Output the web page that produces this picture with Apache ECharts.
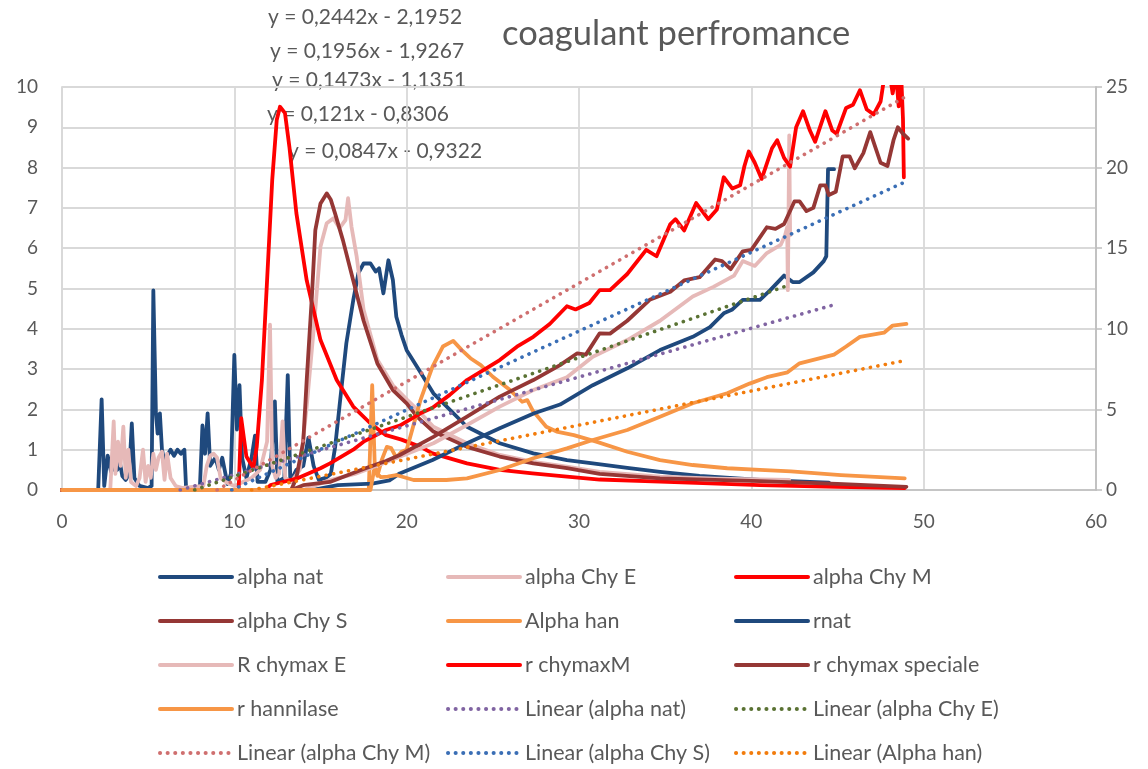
<!DOCTYPE html>
<html>
<head>
<meta charset="utf-8">
<script src="https://cdn.jsdelivr.net/npm/echarts@6/dist/echarts.min.js"></script>
<style>
html,body{margin:0;padding:0;background:#fff;}
#chart{width:1148px;height:769px;}
</style>
</head>
<body>
<div id="chart"></div>
<script>
// ---------- DATA ----------
const titleText = 'coagulant perfromance';
const xTicks = [0, 10, 20, 30, 40, 50, 60];
const leftTicks = [0,1,2,3,4,5,6,7,8,9,10];
const rightTicks = [0,5,10,15,20,25];

// left-axis series [x, y]
const alphaNat = [[0,0],[2.1,0],[2.3,2.25],[2.45,0.1],[2.65,0.85],[2.85,0.45],[3.05,0.6],[3.2,0.5],[3.35,0.7],[3.5,0.35],[3.7,0.25],[3.9,0.4],[4.05,1.65],[4.2,0.3],[4.5,0.1],[5.0,0.05],[5.2,0.1],[5.3,4.95],[5.45,1.9],[5.55,1.4],[5.68,1.9],[5.8,1.0],[5.95,0.7],[6.1,0.85],[6.3,1.0],[6.5,0.85],[6.7,1.0],[6.9,0.9],[7.1,1.0],[7.2,0.05],[7.6,0],[8.0,0.05],[8.15,1.6],[8.3,0.9],[8.45,1.9],[8.6,0.6],[8.9,0.8],[9.1,0.5],[9.3,0.8],[9.6,0.15],[9.8,0.4],[10.0,3.35],[10.15,1.5],[10.3,2.6],[10.45,0.8],[10.7,0.3],[11.0,0.8],[11.2,1.35],[11.35,0.2],[11.8,0.2],[12.1,0.5],[12.35,2.2],[12.5,0.2],[12.9,0.3],[13.1,2.85],[13.25,0.2],[13.6,0.5],[14.0,0.6],[14.3,1.3],[14.6,0.6],[14.9,0.25],[15.3,0.3],[15.6,0.4],[15.85,1.07],[16.1,2.07],[16.5,3.64],[16.9,4.71],[17.2,5.38],[17.5,5.62],[17.9,5.62],[18.2,5.42],[18.4,5.5],[18.65,4.88],[18.94,5.7],[19.2,5.21],[19.4,4.3],[19.7,3.85],[20.0,3.47],[20.6,3.06],[21.55,2.4],[23.5,1.57],[25.4,1.16],[27.35,0.91],[29.3,0.74],[30.8,0.66],[32.8,0.55],[34.7,0.45],[37.0,0.35],[40.5,0.25],[44.5,0.18]];
const alphaChyE = [[0,0],[2.8,0],[3.0,1.7],[3.1,0.4],[3.25,1.2],[3.4,0.6],[3.56,1.57],[3.7,0.3],[3.85,1.0],[4.0,0.2],[4.3,0.1],[4.5,0.3],[4.7,1.0],[4.85,0.2],[5.0,0.6],[5.15,0.3],[5.3,0.9],[5.45,0.5],[5.6,0.8],[5.8,0.95],[5.95,0.25],[6.1,0.9],[6.3,0.3],[6.6,0.1],[7.0,0.05],[8.2,0.1],[8.4,0.6],[8.6,0.85],[8.8,0.9],[9.0,0.8],[9.2,0.3],[9.5,0.2],[10.0,0.1],[10.5,0.2],[11.0,0.3],[11.5,0.5],[11.9,1.2],[12.07,4.1],[12.2,0.6],[12.4,0.3],[12.6,0.4],[12.8,1.7],[12.95,0.3],[13.3,0.2],[13.8,0.5],[14.2,2.07],[14.6,3.97],[15.0,6.04],[15.36,6.62],[15.75,6.74],[16.1,6.5],[16.45,6.7],[16.6,7.24],[16.8,6.53],[17.1,5.79],[17.5,4.47],[18.3,3.23],[19.2,2.6],[20.0,2.25],[20.6,2.0],[21.55,1.57],[23.5,1.16],[25.4,0.87],[27.35,0.7],[29.3,0.58],[31.2,0.45],[34.7,0.33],[38.0,0.28],[42.2,0.25]];
const alphaChyM = [[0,0],[10.25,0],[10.4,1.78],[10.7,0.83],[11.1,0.55],[11.3,1.07],[11.6,2.73],[11.9,5.2],[12.2,7.7],[12.46,9.18],[12.65,9.51],[12.94,9.35],[13.2,8.5],[13.6,6.87],[14.2,5.2],[15.0,3.72],[15.94,2.73],[16.9,2.07],[17.9,1.65],[18.8,1.36],[19.7,1.25],[20.8,1.07],[21.5,0.91],[23.5,0.66],[25.4,0.5],[27.3,0.41],[29.3,0.33],[31.2,0.26],[34.7,0.21],[40.5,0.12],[45,0.08],[48.9,0.05]];
const alphaChyS = [[0,0],[13.3,0],[13.6,0.3],[14.0,1.2],[14.2,2.73],[14.5,4.8],[14.7,6.45],[15.0,7.11],[15.36,7.36],[15.6,7.2],[15.84,6.87],[16.3,6.2],[16.9,5.2],[17.5,4.2],[18.3,3.14],[19.2,2.48],[20.0,2.15],[20.6,1.82],[21.55,1.45],[23.5,1.07],[25.4,0.83],[27.35,0.66],[29.3,0.54],[31.2,0.4],[34.7,0.29],[40.5,0.22],[45,0.15],[49.0,0.08]];
const alphaHan = [[0,0],[17.8,0],[18.0,2.6],[18.15,0.6],[18.3,0.35],[18.55,0.74],[18.85,1.07],[19.1,1.04],[19.4,0.8],[19.7,0.95],[20.0,1.0],[20.8,2.23],[21.5,3.06],[22.1,3.56],[22.7,3.7],[23.2,3.47],[23.7,3.27],[24.3,3.1],[25.0,2.81],[26.0,2.48],[26.7,2.19],[27.0,2.23],[27.3,1.98],[28.1,1.57],[28.7,1.45],[29.7,1.36],[31.0,1.2],[32.8,0.95],[34.7,0.74],[36.6,0.62],[38.6,0.54],[40.5,0.5],[42.3,0.46],[45.2,0.37],[48.9,0.29]];

// right-axis series [x, r]
const rNat = [[0,0],[14.5,0],[16,0.3],[18,0.4],[19.0,0.6],[19.6,1.03],[21.5,1.86],[23.5,2.9],[25.4,3.83],[27.4,4.76],[28.9,5.3],[30.8,6.5],[32.8,7.55],[34.7,8.68],[36.6,9.5],[37.6,10.1],[38.4,10.96],[38.9,11.2],[39.5,11.8],[40.5,11.8],[41.1,12.4],[41.9,13.3],[42.4,12.9],[42.8,12.9],[43.6,13.5],[44.2,14.2],[44.35,14.5],[44.45,19.9],[44.8,19.9]];
const rChymaxE = [[0,0],[14.0,0],[15.5,0.6],[17.0,1.0],[18.5,1.6],[19.6,2.07],[21.55,2.9],[23.5,4.03],[25.4,5.17],[27.35,6.2],[29.3,7.0],[30.8,8.27],[32.8,9.3],[34.7,10.5],[36.6,12.0],[37.8,12.6],[39.0,13.3],[39.5,14.2],[40.2,13.9],[40.9,14.7],[41.7,15.2],[41.96,15.8],[42.08,16.3],[42.12,12.4],[42.2,22.0],[42.25,15.8]];
const rChymaxM = [[0,0],[11.8,0],[12.1,0.31],[13.6,0.7],[15.0,1.35],[15.55,1.65],[16.9,2.5],[17.5,3.0],[18.8,3.72],[19.6,4.0],[20.8,4.76],[21.5,5.1],[22.5,5.9],[23.5,6.82],[24.45,7.44],[25.4,8.06],[26.4,8.89],[27.35,9.5],[28.3,10.3],[29.3,11.4],[29.8,11.2],[30.6,11.6],[31.2,12.4],[31.8,12.4],[32.8,13.4],[33.9,14.9],[34.5,14.5],[35.3,16.5],[35.6,16.8],[36.1,16.1],[36.8,17.8],[37.5,16.8],[38.0,17.4],[38.4,19.4],[38.9,18.7],[39.35,18.9],[39.6,20.1],[39.85,21.0],[40.2,20.3],[40.6,19.3],[41.2,21.2],[41.5,21.7],[41.9,20.6],[42.25,20.06],[42.6,22.5],[43.0,23.5],[43.4,22.3],[43.7,21.6],[44.3,23.5],[44.7,22.3],[44.95,22.1],[45.5,23.7],[45.9,23.9],[46.3,24.8],[46.7,23.6],[47.1,23.3],[47.5,24.1],[47.7,25.5],[48.0,26],[48.2,24.6],[48.4,25.8],[48.55,23.8],[48.7,25.6],[48.8,23.0],[48.85,19.4]];
const rChymaxS = [[0,0],[13.3,0],[14.0,0.3],[15.55,0.5],[17.5,1.3],[18.8,1.8],[19.6,2.17],[21.55,3.3],[23.5,4.55],[25.4,5.79],[27.35,6.82],[28.9,7.75],[29.9,8.48],[30.4,8.4],[31.2,9.72],[31.8,9.7],[32.8,10.5],[34.1,11.8],[35.3,12.3],[36.1,13.0],[37.0,13.2],[37.9,14.3],[38.3,14.2],[38.8,13.7],[39.5,14.8],[40.0,14.9],[40.9,16.3],[41.4,16.2],[41.9,16.5],[42.5,17.9],[42.8,17.9],[43.2,17.3],[43.6,17.5],[44.0,18.9],[44.3,18.9],[44.5,18.3],[44.9,18.5],[45.3,20.7],[45.7,20.7],[46.0,19.96],[46.5,20.9],[46.9,22.2],[47.5,20.3],[47.9,20.1],[48.25,21.7],[48.5,22.5],[48.8,22.1],[49.1,21.8]];
const rHannilase = [[0,0],[17.9,0],[18.1,1.2],[18.5,0.8],[18.9,0.83],[19.4,0.93],[20.4,0.62],[22.3,0.62],[23.5,0.72],[25.4,1.24],[27.35,1.97],[29.3,2.58],[30.8,3.1],[32.8,3.72],[34.7,4.55],[36.6,5.38],[38.6,6.0],[39.9,6.6],[40.9,7.0],[42.1,7.3],[42.8,7.86],[44.8,8.4],[45.5,8.9],[46.3,9.5],[47.7,9.76],[48.2,10.2],[49.0,10.3]];

// trendline end points (left axis)
const linAlphaNat = [[6.86,0],[45.0,4.62]];
const linAlphaChyE = [[7.7,0],[42.3,5.1]];
const linAlphaChyM = [[9.0,0],[48.9,9.75]];
const linAlphaChyS = [[9.85,0],[48.9,7.64]];
const linAlphaHan = [[11.0,0],[48.9,3.21]];

const equations = ['y = 0,2442x - 2,1952','y = 0,1956x - 1,9267','y = 0,1473x - 1,1351','y = 0,121x - 0,8306','y = 0,0847x - 0,9322'];

// ---------- STYLE ----------
const FONT = 'Lato, "Open Sans", sans-serif';
const TXT = '#595959';
const C = {nat:'#1F497D', chyE:'#E6B9B8', chyM:'#FF0000', chyS:'#953735', han:'#F79646',
  lNat:'#8064A2', lE:'#5A7233', lM:'#CF6F6F', lS:'#3A6EB5', lH:'#F27C0C'};

const seriesDefs = [
  ['alpha nat', alphaNat, 0, C.nat, false],
  ['alpha Chy E', alphaChyE, 0, C.chyE, false],
  ['alpha Chy M', alphaChyM, 0, C.chyM, false],
  ['alpha Chy S', alphaChyS, 0, C.chyS, false],
  ['Alpha han', alphaHan, 0, C.han, false],
  ['rnat', rNat, 1, C.nat, false],
  ['R chymax E', rChymaxE, 1, C.chyE, false],
  ['r chymaxM', rChymaxM, 1, C.chyM, false],
  ['r chymax speciale', rChymaxS, 1, C.chyS, false],
  ['r hannilase', rHannilase, 1, C.han, false],
  ['Linear (alpha nat)', linAlphaNat, 0, C.lNat, true],
  ['Linear (alpha Chy E)', linAlphaChyE, 0, C.lE, true],
  ['Linear (alpha Chy M)', linAlphaChyM, 0, C.lM, true],
  ['Linear (alpha Chy S)', linAlphaChyS, 0, C.lS, true],
  ['Linear (Alpha han)', linAlphaHan, 0, C.lH, true]
];

const series = seriesDefs.map(([name, data, yi, color, dotted]) => ({
  name, type: 'line', data, yAxisIndex: yi, symbol: 'none', showSymbol: false,
  smooth: false, clip: true, animation: false, color,
  itemStyle: {color},
  lineStyle: dotted ? {color, width: 3.6, type: [0.1, 7.5], cap: 'round'} : {color, width: 3.8, join: 'round', cap: 'round'},
  z: dotted ? 3 : 2
}));

const legendCols = [
  ['alpha nat','alpha Chy S','R chymax E','r hannilase','Linear (alpha Chy M)'],
  ['alpha Chy E','Alpha han','r chymaxM','Linear (alpha nat)','Linear (alpha Chy S)'],
  ['alpha Chy M','rnat','r chymax speciale','Linear (alpha Chy E)','Linear (Alpha han)']
];
const legendLeft = [158, 446, 734];

const chart = echarts.init(document.getElementById('chart'), null, {renderer: 'canvas'});
chart.setOption({
  backgroundColor: '#fff',
  animation: false,
  textStyle: {fontFamily: FONT},
  title: {text: titleText, left: 497, top: 11, textStyle: {fontFamily: FONT, fontSize: 34.5, fontWeight: 'normal', color: TXT}},
  grid: {left: 62, right: 52, top: 87, bottom: 279, containLabel: false},
  xAxis: {type: 'value', min: xTicks[0], max: xTicks[xTicks.length-1], interval: 10,
    axisLine: {show: true, lineStyle: {color: '#BFBFBF', width: 1.5}},
    axisTick: {show: false},
    axisLabel: {margin: 22, fontSize: 19, color: TXT, fontFamily: FONT},
    splitLine: {show: true, lineStyle: {color: '#D9D9D9', width: 1.8}}},
  yAxis: [
    {type: 'value', min: leftTicks[0], max: leftTicks[leftTicks.length-1], interval: 1,
      axisLine: {show: true, lineStyle: {color: '#D9D9D9', width: 1.8}},
      axisTick: {show: false},
      axisLabel: {margin: 24, fontSize: 19, color: TXT, fontFamily: FONT},
      splitLine: {show: true, lineStyle: {color: '#D9D9D9', width: 1.8}}},
    {type: 'value', min: rightTicks[0], max: rightTicks[rightTicks.length-1], interval: 5, position: 'right',
      axisLine: {show: true, lineStyle: {color: '#BFBFBF', width: 1.8}},
      axisTick: {show: true, inside: false, length: 6, lineStyle: {color: '#BFBFBF', width: 1.5}},
      axisLabel: {margin: 10, fontSize: 19, color: TXT, fontFamily: FONT},
      splitLine: {show: false}}
  ],
  legend: legendCols.map((col, i) => ({
    type: 'plain', orient: 'vertical', left: legendLeft[i], top: 566, height: 400, padding: 0, data: col,
    itemWidth: 72, itemHeight: 14, itemGap: 22, selectedMode: false,
    itemStyle: {opacity: 0},
    lineStyle: {width: 4},
    textStyle: {fontSize: 21.5, color: TXT, fontFamily: FONT, lineHeight: 20}
  })),
  graphic: [
    {type: 'text', left: 268, top: 7, style: {text: equations[0], font: '21px ' + FONT, fill: TXT}},
    {type: 'text', left: 270, top: 41, style: {text: equations[1], font: '21px ' + FONT, fill: TXT}},
    {type: 'text', left: 272, top: 70, style: {text: equations[2], font: '21px ' + FONT, fill: TXT}},
    {type: 'text', left: 267, top: 104, style: {text: equations[3], font: '21px ' + FONT, fill: TXT}},
    {type: 'text', left: 288, top: 141, style: {text: equations[4], font: '21px ' + FONT, fill: TXT}}
  ],
  series
});
</script>
</body>
</html>
